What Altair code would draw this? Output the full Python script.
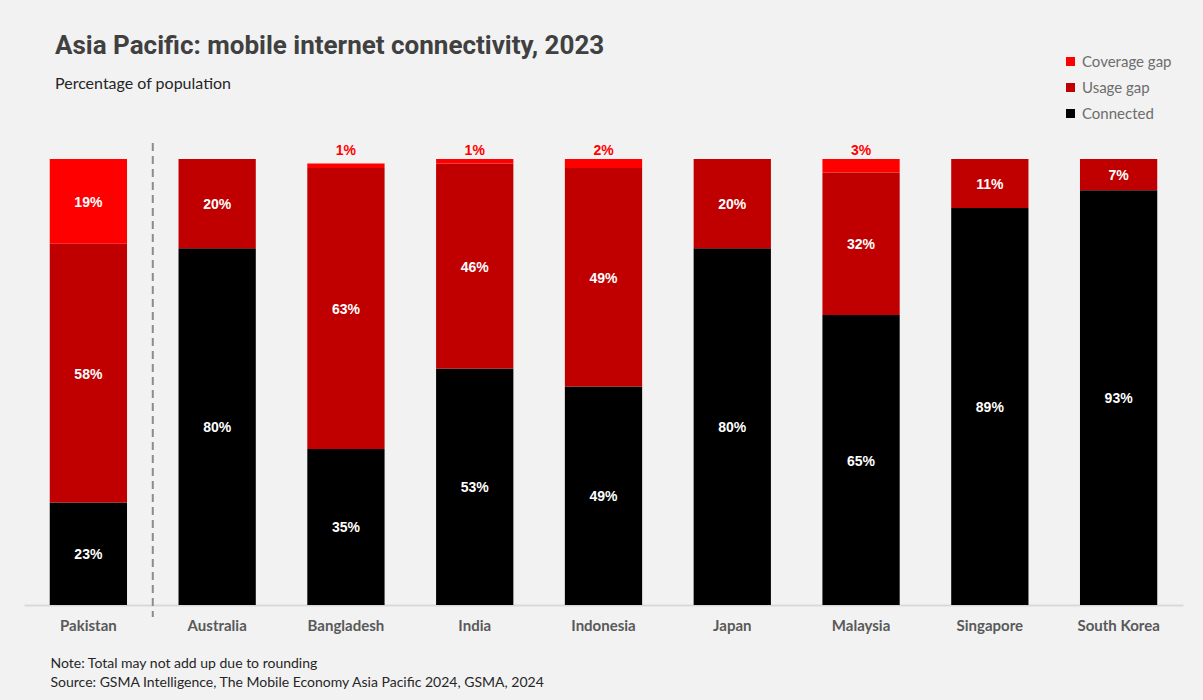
import altair as alt
import pandas as pd

countries = ["Pakistan", "Australia", "Bangladesh", "India", "Indonesia",
             "Japan", "Malaysia", "Singapore", "South Korea"]
connected = [23, 80, 35, 53, 49, 80, 65, 89, 93]
usage_gap = [58, 20, 63, 46, 49, 20, 32, 11, 7]
coverage_gap = [19, 0, 1, 1, 2, 0, 3, 0, 0]
series = ["Connected", "Usage gap", "Coverage gap"]
legend_order = ["Coverage gap", "Usage gap", "Connected"]
legend_colors = ["#ff0000", "#c00000", "#000000"]

title_text = "Asia Pacific: mobile internet connectivity, 2023"
subtitle_text = "Percentage of population"
note_lines = ["Note: Total may not add up due to rounding",
              "Source: GSMA Intelligence, The Mobile Economy Asia Pacific 2024, GSMA, 2024"]

rows = []
for i, c in enumerate(countries):
    base = 0
    for k, (s, vals) in enumerate(zip(series, [connected, usage_gap, coverage_gap])):
        v = vals[i]
        if v == 0:
            continue
        rows.append(dict(country=c, series=s, order=k, value=v,
                         y0=base / 100, y1=(base + v) / 100,
                         mid=(base + v / 2) / 100, label=f"{v}%",
                         inside=1 if v >= 5 else 0,
                         first=1 if (i == 0 and k == 0) else 0))
        base += v
df = pd.DataFrame(rows)

W, H = 1159, 446

xaxis = alt.Axis(
    title=note_lines, titleFont="Lato", titleFontSize=14, titleFontWeight="normal",
    titleColor="#262626", titleAnchor="start", titleAlign="left", titleX=26, titleY=62,
    titleBaseline="alphabetic", titleLineHeight=19, titleAngle=0,
    labelAngle=0, labelFont="Lato", labelFontSize=15, labelFontWeight="bold",
    labelColor="#595959", labelPadding=13, ticks=False, grid=False,
    domainColor="#d9d9d9", domainWidth=2,
)
xscale = alt.Scale(paddingInner=0, paddingOuter=0)
yscale = alt.Scale(domain=[0, 1])


def X(**kw):
    return alt.X("country:N", sort=countries, scale=xscale, axis=xaxis, **kw)


base = alt.Chart(df)

bars = base.mark_bar(width={"band": 0.6}).encode(
    x=X(),
    y=alt.Y("y0:Q", scale=yscale, axis=None),
    y2="y1:Q",
    color=alt.Color(
        "series:N",
        scale=alt.Scale(domain=legend_order, range=legend_colors),
        legend=alt.Legend(
            title=None, orient="none", legendX=1039, legendY=-105,
            symbolType="square", symbolSize=81, symbolStrokeWidth=0,
            labelFont="Lato", labelFontSize=15, labelColor="#6d6d6d",
            rowPadding=10, padding=0, labelOffset=4,
        ),
    ),
    order=alt.Order("order:Q"),
)

inside = base.transform_filter("datum.inside == 1").mark_text(
    color="white", fontWeight="bold", fontSize=14, font="Liberation Sans", dy=1.5
).encode(x=X(), y=alt.Y("mid:Q", scale=yscale, axis=None), text="label:N")

outside = base.transform_filter("datum.inside == 0").transform_calculate(
    top="1.0"
).mark_text(
    color="#ff0000", fontWeight="bold", fontSize=14, font="Liberation Sans", dy=-8
).encode(x=X(), y=alt.Y("top:Q", scale=yscale, axis=None), text="label:N")

sep = base.transform_filter("datum.first == 1").transform_calculate(
    rtop="1.036", rbot="-0.027"
).mark_rule(
    strokeDash=[8, 5], color="#8c8c8c", strokeWidth=2
).encode(x=X(bandPosition=1), y=alt.Y("rtop:Q", scale=yscale, axis=None), y2="rbot:Q")

chart = alt.layer(sep, bars, inside, outside).properties(
    width=W, height=H,
    title=alt.TitleParams(
        text=title_text, subtitle=subtitle_text, anchor="start", frame="group",
        font="Roboto", fontSize=26, fontWeight="bold", color="#404040",
        subtitleFont="Lato", subtitleFontSize=16, subtitleColor="#262626",
        subtitlePadding=17, dx=31, offset=0, dy=38,
    ),
    autosize=alt.AutoSizeParams(type="none"),
    padding={"left": 24, "top": 159, "right": 20, "bottom": 95},
    background="#f2f2f2",
).configure_view(stroke=None)

chart.save("out.html", embed_options={"renderer": "svg", "actions": False})
